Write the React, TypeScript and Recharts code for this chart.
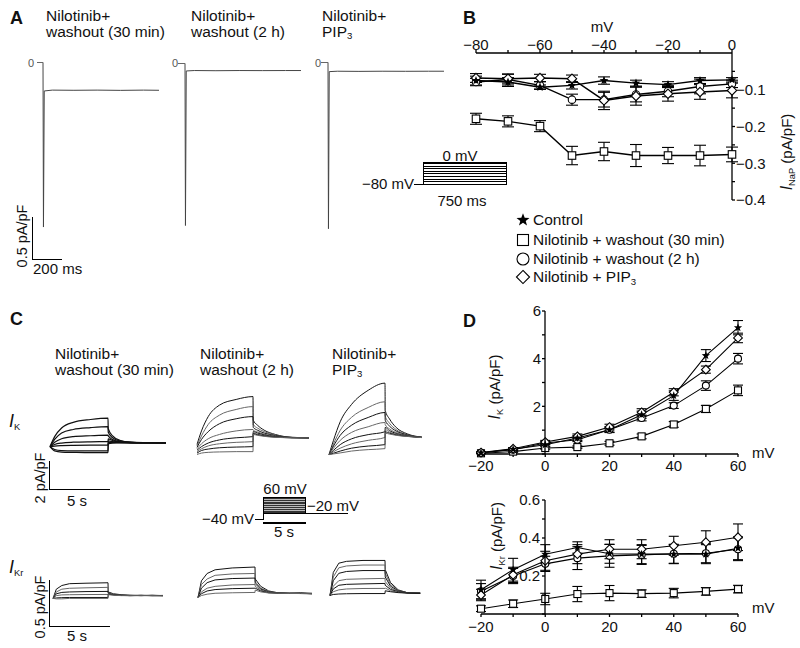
import React from 'react';
import { LineChart, Line, XAxis, YAxis, ErrorBar } from 'recharts';

const FONT = '"Liberation Sans", Arial, Helvetica, sans-serif';

// ---------- Panel B : I_NaP vs voltage ----------
const B_VOLT = [-80, -70, -60, -50, -40, -30, -20, -10, 0];
const B_CTRL = [-0.075, -0.079, -0.093, -0.088, -0.075, -0.082, -0.086, -0.075, -0.073];
const B_CTRL_ERR = [0.012, 0.012, 0.006, 0.01, 0.01, 0.008, 0.008, 0.008, 0.006];
const B_W30 = [-0.179, -0.186, -0.199, -0.279, -0.268, -0.279, -0.279, -0.279, -0.276];
const B_W30_ERR = [0.015, 0.015, 0.015, 0.025, 0.025, 0.03, 0.022, 0.028, 0.02];
const B_W2H = [-0.079, -0.072, -0.088, -0.127, -0.127, -0.113, -0.104, -0.091, -0.084];
const B_W2H_ERR = [0.01, 0.015, 0.01, 0.015, 0.02, 0.02, 0.015, 0.02, 0.01];
const B_PIP = [-0.068, -0.07, -0.068, -0.07, -0.129, -0.117, -0.111, -0.106, -0.102];
const B_PIP_ERR = [0.012, 0.012, 0.01, 0.01, 0.025, 0.025, 0.02, 0.02, 0.02];
const B_XTICKS = [-80, -70, -60, -50, -40, -30, -20, -10, 0];
const B_YTICKS = [-0.4, -0.35, -0.3, -0.25, -0.2, -0.15, -0.1, -0.05];

// ---------- Panel D : I_K and I_Kr vs voltage ----------
const D_VOLT = [-20, -10, 0, 10, 20, 30, 40, 50, 60];
const DK_CTRL = [0.05, 0.2, 0.39, 0.67, 1.02, 1.65, 2.45, 4.13, 5.3];
const DK_CTRL_ERR = [0.03, 0.05, 0.06, 0.1, 0.12, 0.15, 0.2, 0.25, 0.3];
const DK_W30 = [0.03, 0.1, 0.25, 0.29, 0.45, 0.74, 1.24, 1.89, 2.67];
const DK_W30_ERR = [0.02, 0.03, 0.05, 0.05, 0.08, 0.1, 0.12, 0.15, 0.22];
const DK_W2H = [0.05, 0.18, 0.46, 0.6, 1.02, 1.51, 2.03, 2.87, 4.0];
const DK_W2H_ERR = [0.03, 0.05, 0.06, 0.08, 0.1, 0.12, 0.12, 0.2, 0.22];
const DK_PIP = [0.06, 0.22, 0.5, 0.74, 1.13, 1.75, 2.59, 3.54, 4.87];
const DK_PIP_ERR = [0.03, 0.05, 0.07, 0.1, 0.12, 0.15, 0.15, 0.15, 0.2];

const DKR_CTRL = [0.128, 0.233, 0.315, 0.35, 0.317, 0.315, 0.315, 0.315, 0.346];
const DKR_CTRL_ERR = [0.05, 0.06, 0.05, 0.03, 0.05, 0.05, 0.05, 0.05, 0.06];
const DKR_W30 = [0.028, 0.054, 0.079, 0.105, 0.11, 0.107, 0.11, 0.119, 0.131];
const DKR_W30_ERR = [0.015, 0.02, 0.03, 0.04, 0.04, 0.02, 0.025, 0.02, 0.02];
const DKR_W2H = [0.12, 0.2, 0.264, 0.294, 0.306, 0.311, 0.317, 0.32, 0.341];
const DKR_W2H_ERR = [0.04, 0.04, 0.04, 0.06, 0.06, 0.05, 0.05, 0.05, 0.06];
const DKR_PIP = [0.1, 0.206, 0.28, 0.315, 0.341, 0.341, 0.359, 0.378, 0.404];
const DKR_PIP_ERR = [0.03, 0.04, 0.05, 0.05, 0.05, 0.05, 0.05, 0.06, 0.07];
const D_XTICKS = [-20, -10, 0, 10, 20, 30, 40, 50, 60];
const DK_YTICKS = [0, 1, 2, 3, 4, 5, 6];
const DKR_YTICKS = [0, 0.1, 0.2, 0.3, 0.4, 0.5, 0.6];

// ---------- Panel A : I_NaP traces (ms, pA/pF) ----------
const A_TIME = [0, 3, 8, 60, 200, 350, 500, 650, 750];
const A_W30 = [0, -1.96, -0.34, -0.33, -0.332, -0.33, -0.333, -0.33, -0.332];
const A_W2H = [0, -1.93, -0.09, -0.085, -0.087, -0.085, -0.086, -0.085, -0.085];
const A_PIP = [0, -1.98, -0.11, -0.105, -0.107, -0.105, -0.106, -0.105, -0.105];

// ---------- Panel C : I_K traces (s, pA/pF) ----------
const IK_TIME = [0, 0.4, 1, 2, 3.5, 5, 5.02, 5.4, 6, 7, 8.5, 10];
const IK_TIME_PIP = [0, 0.4, 1, 2, 3.5, 5, 5.02, 5.4, 6, 7, 8.3];
const IK_W30 = [
  [0, 0.7, 1.3, 1.7, 1.9, 2.0, 1.25, 0.75, 0.45, 0.32, 0.28, 0.27],
  [0, 0.5, 0.95, 1.2, 1.33, 1.4, 1.0, 0.62, 0.4, 0.3, 0.28, 0.27],
  [0, 0.3, 0.55, 0.7, 0.76, 0.8, 0.75, 0.5, 0.35, 0.3, 0.28, 0.27],
  [0, 0.15, 0.25, 0.31, 0.34, 0.35, 0.55, 0.42, 0.32, 0.28, 0.27, 0.27],
  [0, 0.04, 0.07, 0.09, 0.1, 0.1, 0.4, 0.35, 0.3, 0.27, 0.27, 0.26],
  [0, -0.2, -0.28, -0.3, -0.3, -0.3, 0.3, 0.3, 0.28, 0.27, 0.26, 0.26],
  [0, -0.3, -0.38, -0.4, -0.42, -0.42, 0.2, 0.25, 0.26, 0.26, 0.26, 0.26],
];
const IK_W2H = [
  [0.5, 1.45, 2.45, 3.25, 3.65, 3.85, 2.2, 1.85, 1.5, 1.2, 1.0, 0.97],
  [0.4, 1.1, 1.9, 2.55, 2.95, 3.15, 1.9, 1.65, 1.4, 1.15, 1.0, 0.97],
  [0.3, 0.85, 1.4, 1.95, 2.3, 2.45, 1.7, 1.5, 1.3, 1.12, 0.99, 0.97],
  [0.2, 0.55, 0.9, 1.2, 1.45, 1.55, 1.5, 1.38, 1.22, 1.08, 0.98, 0.97],
  [0.1, 0.35, 0.6, 0.82, 0.97, 1.05, 1.4, 1.3, 1.17, 1.05, 0.98, 0.96],
  [0.0, 0.2, 0.4, 0.55, 0.65, 0.7, 1.3, 1.22, 1.12, 1.03, 0.97, 0.96],
  [-0.1, 0.08, 0.18, 0.27, 0.32, 0.35, 1.25, 1.18, 1.1, 1.02, 0.97, 0.96],
  [-0.2, -0.1, -0.05, -0.02, 0, 0, 1.2, 1.14, 1.07, 1.0, 0.97, 0.96],
];
const IK_PIP = [
  [0, 1.0, 2.3, 3.5, 4.5, 5.0, 3.1, 2.5, 1.9, 1.45, 1.22],
  [0, 0.75, 1.7, 2.6, 3.3, 3.7, 2.7, 2.2, 1.75, 1.4, 1.22],
  [0, 0.6, 1.35, 2.05, 2.6, 2.95, 2.4, 2.0, 1.65, 1.38, 1.21],
  [0, 0.45, 1.0, 1.55, 1.95, 2.25, 2.1, 1.8, 1.55, 1.35, 1.21],
  [0, 0.3, 0.7, 1.1, 1.4, 1.6, 1.9, 1.68, 1.48, 1.32, 1.2],
  [0, 0.2, 0.45, 0.75, 1.0, 1.2, 1.75, 1.58, 1.42, 1.3, 1.2],
  [0, 0.1, 0.25, 0.45, 0.6, 0.7, 1.6, 1.5, 1.38, 1.28, 1.2],
  [0, 0.05, 0.12, 0.25, 0.35, 0.42, 1.5, 1.44, 1.35, 1.27, 1.19],
];

// ---------- Panel C : I_Kr traces (s, pA/pF) ----------
const IKR_TIME = [0, 0.3, 0.8, 1.5, 3, 5, 5.02, 5.5, 6.2, 7, 8, 9, 10];
const IKR_TIME_PIP = [0, 0.3, 0.8, 1.5, 3, 5, 5.02, 5.5, 6.2, 7, 8.2];
const IKR_W30 = [
  [0, 0.1, 0.14, 0.16, 0.165, 0.17, 0.07, 0.05, 0.04, 0.035, 0.03, 0.035, 0.03],
  [0, 0.07, 0.1, 0.11, 0.115, 0.12, 0.06, 0.045, 0.038, 0.032, 0.035, 0.03, 0.033],
  [0, 0.05, 0.065, 0.07, 0.074, 0.076, 0.055, 0.04, 0.035, 0.03, 0.033, 0.03, 0.03],
  [0, 0.03, 0.038, 0.04, 0.042, 0.043, 0.05, 0.04, 0.033, 0.032, 0.03, 0.032, 0.03],
  [0, 0.005, 0.008, 0.01, 0.01, 0.01, 0.045, 0.038, 0.032, 0.03, 0.032, 0.03, 0.03],
  [0, -0.005, -0.005, 0, 0, 0, 0.04, 0.035, 0.03, 0.03, 0.03, 0.03, 0.028],
];
const IKR_W2H = [
  [0, 0.18, 0.26, 0.3, 0.32, 0.33, 0.2, 0.12, 0.07, 0.05, 0.045, 0.05, 0.045],
  [0, 0.14, 0.2, 0.24, 0.255, 0.26, 0.17, 0.1, 0.065, 0.05, 0.045, 0.045, 0.04],
  [0, 0.1, 0.16, 0.19, 0.205, 0.21, 0.15, 0.09, 0.06, 0.048, 0.045, 0.045, 0.04],
  [0, 0.06, 0.1, 0.12, 0.135, 0.14, 0.12, 0.08, 0.055, 0.047, 0.045, 0.043, 0.042],
  [0, 0.04, 0.07, 0.085, 0.095, 0.1, 0.1, 0.07, 0.05, 0.045, 0.044, 0.042, 0.04],
  [0, 0.02, 0.035, 0.045, 0.05, 0.054, 0.08, 0.06, 0.048, 0.045, 0.043, 0.042, 0.04],
];
const IKR_PIP = [
  [0, 0.25, 0.35, 0.37, 0.38, 0.38, 0.28, 0.14, 0.06, 0.03, 0.025],
  [0, 0.2, 0.3, 0.32, 0.33, 0.33, 0.24, 0.12, 0.055, 0.03, 0.025],
  [0, 0.16, 0.24, 0.26, 0.27, 0.27, 0.2, 0.1, 0.05, 0.03, 0.025],
  [0, 0.1, 0.16, 0.175, 0.18, 0.185, 0.15, 0.08, 0.045, 0.028, 0.025],
  [0, 0.07, 0.11, 0.12, 0.125, 0.13, 0.11, 0.065, 0.04, 0.028, 0.024],
  [0, 0.04, 0.06, 0.07, 0.075, 0.076, 0.08, 0.05, 0.035, 0.026, 0.024],
  [0, 0.01, 0.015, 0.018, 0.02, 0.02, 0.05, 0.04, 0.03, 0.025, 0.022],
];

// ---------- helpers ----------
type Kind = 'star' | 'square' | 'circle' | 'diamond';

function Marker({ kind, cx, cy, s }: { kind: Kind; cx: number; cy: number; s: number }) {
  const sw = 1.1;
  if (kind === 'square')
    return <rect x={cx - s / 2} y={cy - s / 2} width={s} height={s} fill="#fff" stroke="#000" strokeWidth={sw} />;
  if (kind === 'circle') return <circle cx={cx} cy={cy} r={s / 2} fill="#fff" stroke="#000" strokeWidth={sw} />;
  if (kind === 'diamond') {
    const r = (s / 2) * 1.25;
    return (
      <polygon
        points={`${cx},${cy - r} ${cx + r},${cy} ${cx},${cy + r} ${cx - r},${cy}`}
        fill="#fff"
        stroke="#000"
        strokeWidth={sw}
      />
    );
  }
  const pts: string[] = [];
  for (let k = 0; k < 10; k++) {
    const a = -Math.PI / 2 + (k * Math.PI) / 5;
    const r = k % 2 === 0 ? s * 0.62 : s * 0.26;
    pts.push(`${cx + r * Math.cos(a)},${cy + r * Math.sin(a)}`);
  }
  return <polygon points={pts.join(' ')} fill="#000" />;
}

const dotOf = (kind: Kind, s: number) => (p: any) =>
  p.cx == null || p.cy == null ? (
    <g key={`${kind}-${p.index}`} />
  ) : (
    <Marker key={`${kind}-${p.index}`} kind={kind} cx={p.cx} cy={p.cy} s={s} />
  );

const SERIES: { key: string; kind: Kind }[] = [
  { key: 'w30', kind: 'square' },
  { key: 'w2h', kind: 'circle' },
  { key: 'pip', kind: 'diamond' },
  { key: 'ctrl', kind: 'star' },
];

const AX = { stroke: '#000', strokeWidth: 1.3 };
const TICK = { fill: '#111', fontSize: 15, fontFamily: FONT };

const Sub = ({ children }: { children: React.ReactNode }) => (
  <span style={{ fontSize: '0.62em', position: 'relative', top: '0.3em' }}>{children}</span>
);

function T({
  x,
  y,
  children,
  a = 'start',
  size = 15,
  bold = false,
  rot = 0,
  color = '#111',
}: {
  x: number;
  y: number;
  children: React.ReactNode;
  a?: 'start' | 'middle' | 'end';
  size?: number;
  bold?: boolean;
  rot?: number;
  color?: string;
}) {
  const tx = a === 'start' ? '0' : a === 'middle' ? '-50%' : '-100%';
  return (
    <div
      style={{
        position: 'absolute',
        left: x,
        top: y,
        transform: `translate(${tx},-50%)${rot ? ` rotate(${rot}deg)` : ''}`,
        fontSize: size,
        fontWeight: bold ? 700 : 400,
        whiteSpace: 'nowrap',
        lineHeight: 1,
        color,
      }}
    >
      {children}
    </div>
  );
}

function Title({ x, y, l1, l2 }: { x: number; y: number; l1: React.ReactNode; l2: React.ReactNode }) {
  return (
    <div style={{ position: 'absolute', left: x, top: y, fontSize: 15.5, lineHeight: '15.5px', whiteSpace: 'nowrap' }}>
      {l1}
      <br />
      {l2}
    </div>
  );
}

function Bar({ x, y, w, h, c = '#000' }: { x: number; y: number; w: number; h: number; c?: string }) {
  return <div style={{ position: 'absolute', left: x, top: y, width: w, height: h, background: c }} />;
}

function Traces({
  left,
  top,
  w,
  h,
  xDom,
  yDom,
  times,
  traces,
  colors,
  sw = 1,
  curve = 'monotone',
}: {
  left: number;
  top: number;
  w: number;
  h: number;
  xDom: [number, number];
  yDom: [number, number];
  times: number[];
  traces: number[][];
  colors: string[];
  sw?: number;
  curve?: any;
}) {
  const rows = times.map((t, i) => {
    const r: Record<string, number> = { t };
    traces.forEach((tr, j) => {
      r['s' + j] = tr[i];
    });
    return r;
  });
  const P = 3;
  return (
    <div style={{ position: 'absolute', left: left - P, top: top - P }}>
      <LineChart width={w + 2 * P} height={h + 2 * P} data={rows} margin={{ top: P, right: P, bottom: P, left: P }}>
        <XAxis type="number" dataKey="t" domain={xDom} hide />
        <YAxis type="number" domain={yDom} hide />
        {traces.map((_, j) => (
          <Line
            key={j}
            dataKey={'s' + j}
            type={curve}
            stroke={colors[j % colors.length]}
            strokeWidth={sw}
            dot={false}
            isAnimationActive={false}
          />
        ))}
      </LineChart>
    </div>
  );
}

const fmtB = (v: number) => (v % 20 === 0 ? (v < 0 ? '\u2212' + -v : '0') : '');
const fmtBY = (v: number) => {
  const k = Math.round(-v * 100);
  return k % 10 === 0 ? '\u2212' + (k / 100).toFixed(1) : '';
};
const fmtD = (v: number) => (v % 20 === 0 ? (v < 0 ? '\u2212' + -v : String(v)) : '');

function ivRows(v: number[], ctrl: number[], ce: number[], w30: number[], w30e: number[], w2h: number[], w2he: number[], pip: number[], pipe: number[]) {
  return v.map((x, i) => ({
    v: x,
    ctrl: ctrl[i],
    ctrlE: ce[i],
    w30: w30[i],
    w30E: w30e[i],
    w2h: w2h[i],
    w2hE: w2he[i],
    pip: pip[i],
    pipE: pipe[i],
  }));
}

function seriesLines(s: number, cap: number, sw: number) {
  return SERIES.map((sr) => (
    <Line
      key={sr.key}
      dataKey={sr.key}
      type="linear"
      stroke="#000"
      strokeWidth={sw}
      dot={dotOf(sr.kind, s)}
      isAnimationActive={false}
    >
      <ErrorBar dataKey={sr.key + 'E'} width={cap} stroke="#000" strokeWidth={1.1} direction="y" isAnimationActive={false} />
    </Line>
  ));
}

const LEGEND: { kind: Kind; s: number; label: React.ReactNode; y: number }[] = [
  { kind: 'star', s: 11, label: 'Control', y: 220 },
  { kind: 'square', s: 11, label: 'Nilotinib + washout (30 min)', y: 239.5 },
  { kind: 'circle', s: 12, label: 'Nilotinib + washout (2 h)', y: 258.5 },
  {
    kind: 'diamond',
    s: 10.5,
    label: (
      <>
        Nilotinib + PIP<Sub>3</Sub>
      </>
    ),
    y: 277,
  },
];

export default function App() {
  const bRows = ivRows(B_VOLT, B_CTRL, B_CTRL_ERR, B_W30, B_W30_ERR, B_W2H, B_W2H_ERR, B_PIP, B_PIP_ERR);
  const dkRows = ivRows(D_VOLT, DK_CTRL, DK_CTRL_ERR, DK_W30, DK_W30_ERR, DK_W2H, DK_W2H_ERR, DK_PIP, DK_PIP_ERR);
  const dkrRows = ivRows(D_VOLT, DKR_CTRL, DKR_CTRL_ERR, DKR_W30, DKR_W30_ERR, DKR_W2H, DKR_W2H_ERR, DKR_PIP, DKR_PIP_ERR);
  const traceCols = ['#111', '#666'];
  const A_H = 2.15 * 84;
  const IK_H = 6.5 * 14.3;
  const IKR_H = 0.55 * 92;

  return (
    <div
      style={{
        position: 'absolute',
        left: 0,
        top: 0,
        width: 800,
        height: 648,
        background: '#fff',
        fontFamily: FONT,
        color: '#111',
        overflow: 'hidden',
      }}
    >
      {/* ================= Panel A ================= */}
      <T x={10} y={18} size={18} bold>
        A
      </T>
      <Title x={46} y={8} l1="Nilotinib+" l2="washout (30 min)" />
      <Title x={191} y={8} l1="Nilotinib+" l2="washout (2 h)" />
      <Title
        x={322}
        y={8}
        l1="Nilotinib+"
        l2={
          <>
            PIP<Sub>3</Sub>
          </>
        }
      />
      <Traces left={42.5} top={62 - 8.4} w={116} h={A_H} xDom={[0, 750]} yDom={[-2.05, 0.1]} times={A_TIME} traces={[A_W30]} colors={['#444']} curve="linear" />
      <Traces left={185} top={63 - 8.4} w={116} h={A_H} xDom={[0, 750]} yDom={[-2.05, 0.1]} times={A_TIME} traces={[A_W2H]} colors={['#444']} curve="linear" />
      <Traces left={328} top={62 - 8.4} w={116} h={A_H} xDom={[0, 750]} yDom={[-2.05, 0.1]} times={A_TIME} traces={[A_PIP]} colors={['#444']} curve="linear" />
      <T x={31} y={63} size={11} color="#555" a="middle">0</T>
      <Bar x={37} y={62} w={6} h={1} c="#666" />
      <T x={175} y={63} size={11} color="#555" a="middle">0</T>
      <Bar x={178} y={62.5} w={7} h={1} c="#666" />
      <T x={318} y={63} size={11} color="#555" a="middle">0</T>
      <Bar x={321} y={62} w={7} h={1} c="#666" />
      {/* scale bar A */}
      <Bar x={32} y={217} w={1.3} h={43} />
      <Bar x={32} y={259} w={30} h={1.3} />
      <T x={22} y={236} a="middle" rot={-90} size={14.5}>
        0.5 pA/pF
      </T>
      <T x={33} y={268} size={15}>
        200 ms
      </T>

      {/* ================= Panel B ================= */}
      <T x={463} y={18} size={18} bold>
        B
      </T>
      <T x={602} y={26} a="middle">
        mV
      </T>
      <div style={{ position: 'absolute', left: 440, top: 20 }}>
        <LineChart width={360} height={200} data={bRows} margin={{ top: 3, right: 18, bottom: 20, left: 36 }}>
          <XAxis
            type="number"
            dataKey="v"
            orientation="top"
            domain={[-80, 0]}
            ticks={B_XTICKS}
            interval={0}
            tickFormatter={fmtB}
            height={30}
            tickSize={3}
            tickMargin={0}
            axisLine={AX}
            tickLine={AX}
            tick={TICK}
          />
          <YAxis
            type="number"
            orientation="right"
            domain={[-0.4, 0]}
            ticks={B_YTICKS}
            interval={0}
            tickFormatter={fmtBY}
            width={50}
            tickSize={3}
            tickMargin={1}
            axisLine={AX}
            tickLine={AX}
            tick={TICK}
          />
          {seriesLines(7.5, 6, 1.4)}
        </LineChart>
      </div>
      <T x={787} y={152} a="middle" rot={-90}>
        <i style={{ fontSize: 16 }}>I</i>
        <Sub>NaP</Sub> (pA/pF)
      </T>
      {LEGEND.map((l) => (
        <React.Fragment key={l.kind}>
          <svg style={{ position: 'absolute', left: 515, top: l.y - 8 }} width={16} height={16}>
            <Marker kind={l.kind} cx={8} cy={8} s={l.s} />
          </svg>
          <T x={533} y={l.y} size={15.5}>
            {l.label}
          </T>
        </React.Fragment>
      ))}
      {/* protocol inset B */}
      <div
        style={{
          position: 'absolute',
          left: 423,
          top: 162,
          width: 84,
          height: 23,
          boxSizing: 'border-box',
          border: '1.3px solid #000',
          background: 'repeating-linear-gradient(to bottom, #000 0px, #000 1px, transparent 1px, transparent 2.6px)',
        }}
      />
      <Bar x={414} y={184} w={10} h={1.3} />
      <T x={460} y={155} a="middle">
        0 mV
      </T>
      <T x={414} y={183} a="end">
        {'\u2212'}80 mV
      </T>
      <T x={462} y={200} a="middle">
        750 ms
      </T>

      {/* ================= Panel C ================= */}
      <T x={10} y={319} size={18} bold>
        C
      </T>
      <Title x={55} y={346} l1="Nilotinib+" l2="washout (30 min)" />
      <Title x={200} y={346} l1="Nilotinib+" l2="washout (2 h)" />
      <Title
        x={332}
        y={346}
        l1="Nilotinib+"
        l2={
          <>
            PIP<Sub>3</Sub>
          </>
        }
      />
      <T x={9} y={421}>
        <i style={{ fontSize: 18 }}>I</i>
        <Sub>K</Sub>
      </T>
      <T x={9} y={567}>
        <i style={{ fontSize: 18 }}>I</i>
        <Sub>Kr</Sub>
      </T>
      <Traces left={50} top={447 - 5.5 * 14.3} w={116} h={IK_H} xDom={[0, 10]} yDom={[-1, 5.5]} times={IK_TIME} traces={IK_W30} colors={['#111']} sw={1.2} />
      <Traces left={197} top={452 - 5.5 * 14.3} w={112} h={IK_H} xDom={[0, 10]} yDom={[-1, 5.5]} times={IK_TIME} traces={IK_W2H} colors={traceCols} />
      <Traces left={329} top={455 - 5.5 * 14.3} w={112} h={IK_H} xDom={[0, 10]} yDom={[-1, 5.5]} times={IK_TIME_PIP} traces={IK_PIP} colors={traceCols} />
      <Traces left={53} top={598 - 0.45 * 92} w={110} h={IKR_H} xDom={[0, 10]} yDom={[-0.1, 0.45]} times={IKR_TIME} traces={IKR_W30} colors={traceCols} curve="linear" />
      <Traces left={198} top={597 - 0.45 * 92} w={114} h={IKR_H} xDom={[0, 10]} yDom={[-0.1, 0.45]} times={IKR_TIME} traces={IKR_W2H} colors={traceCols} curve="linear" />
      <Traces left={330} top={595 - 0.45 * 92} w={110} h={IKR_H} xDom={[0, 10]} yDom={[-0.1, 0.45]} times={IKR_TIME_PIP} traces={IKR_PIP} colors={traceCols} curve="linear" />
      {/* scale bars C */}
      <Bar x={49} y={461} w={1.3} h={29} />
      <Bar x={49} y={489} w={61} h={1.3} />
      <T x={40} y={478} a="middle" rot={-90} size={14.5}>
        2 pA/pF
      </T>
      <T x={77} y={500} a="middle">
        5 s
      </T>
      <Bar x={49} y={580} w={1.3} h={47} />
      <Bar x={49} y={626} w={61} h={1.3} />
      <T x={40} y={607} a="middle" rot={-90} size={14.5}>
        0.5 pA/pF
      </T>
      <T x={77} y={635} a="middle">
        5 s
      </T>
      {/* protocol inset C */}
      <div
        style={{
          position: 'absolute',
          left: 263,
          top: 497,
          width: 43,
          height: 17,
          boxSizing: 'border-box',
          border: '1.3px solid #000',
          background: 'repeating-linear-gradient(to bottom, #333 0px, #333 1px, #bbb 1px, #bbb 1.8px)',
        }}
      />
      <Bar x={263} y={497} w={1.3} h={23} />
      <Bar x={255} y={519} w={9} h={1.3} />
      <Bar x={305} y={513} w={43} h={1.3} />
      <Bar x={263} y={522} w={43} h={1.5} />
      <T x={285} y={488} a="middle">
        60 mV
      </T>
      <T x={307} y={505}>
        {'\u2212'}20 mV
      </T>
      <T x={254} y={518} a="end">
        {'\u2212'}40 mV
      </T>
      <T x={284} y={531} a="middle">
        5 s
      </T>

      {/* ================= Panel D ================= */}
      <T x={463} y={321} size={18} bold>
        D
      </T>
      {/* I_K vs V */}
      <div style={{ position: 'absolute', left: 441, top: 300 }}>
        <LineChart width={320} height={180} data={dkRows} margin={{ top: 11, right: 23, bottom: 1, left: 40 }}>
          <XAxis
            type="number"
            dataKey="v"
            domain={[-20, 60]}
            ticks={D_XTICKS}
            interval={0}
            tickFormatter={fmtD}
            height={25}
            tickSize={3}
            tickMargin={3}
            axisLine={AX}
            tickLine={AX}
            tick={TICK}
          />
          <YAxis type="number" domain={[0, 6]} hide />
          {seriesLines(7, 5, 1.1)}
        </LineChart>
      </div>
      <div style={{ position: 'absolute', left: 495, top: 300 }}>
        <LineChart width={60} height={180} data={dkRows} margin={{ top: 11, right: 0, bottom: 26, left: 0 }}>
          <XAxis type="number" dataKey="v" domain={[-20, 60]} hide />
          <YAxis
            type="number"
            domain={[0, 6]}
            allowDataOverflow
            ticks={DK_YTICKS}
            interval={0}
            tickFormatter={(v: number) => (v > 0 && v % 2 === 0 ? String(v) : '')}
            width={50}
            tickSize={3}
            tickMargin={1}
            axisLine={AX}
            tickLine={AX}
            tick={TICK}
          />
          <Line dataKey="w30" stroke="none" dot={false} isAnimationActive={false} />
        </LineChart>
      </div>
      <T x={752} y={452}>
        mV
      </T>
      <T x={495} y={387} a="middle" rot={-90}>
        <i style={{ fontSize: 16 }}>I</i>
        <Sub>K</Sub> (pA/pF)
      </T>

      {/* I_Kr vs V */}
      <div style={{ position: 'absolute', left: 441, top: 490 }}>
        <LineChart width={320} height={150} data={dkrRows} margin={{ top: 10, right: 23, bottom: 1, left: 40 }}>
          <XAxis
            type="number"
            dataKey="v"
            domain={[-20, 60]}
            ticks={D_XTICKS}
            interval={0}
            tickFormatter={fmtD}
            height={25}
            tickSize={3}
            tickMargin={4}
            axisLine={AX}
            tickLine={AX}
            tick={TICK}
          />
          <YAxis type="number" domain={[0, 0.6]} hide />
          {seriesLines(7, 5, 1.1)}
        </LineChart>
      </div>
      <div style={{ position: 'absolute', left: 495, top: 490 }}>
        <LineChart width={60} height={150} data={dkrRows} margin={{ top: 10, right: 0, bottom: 26, left: 0 }}>
          <XAxis type="number" dataKey="v" domain={[-20, 60]} hide />
          <YAxis
            type="number"
            domain={[0, 0.6]}
            allowDataOverflow
            ticks={DKR_YTICKS}
            interval={0}
            tickFormatter={(v: number) => {
              const k = Math.round(v * 10);
              return k > 0 && k % 2 === 0 ? (k / 10).toFixed(1) : '';
            }}
            width={50}
            tickSize={3}
            tickMargin={2}
            axisLine={AX}
            tickLine={AX}
            tick={TICK}
          />
          <Line dataKey="w30" stroke="none" dot={false} isAnimationActive={false} />
        </LineChart>
      </div>
      <T x={752} y={607}>
        mV
      </T>
      <T x={497} y={536} a="middle" rot={-90}>
        <i style={{ fontSize: 16 }}>I</i>
        <Sub>Kr</Sub> (pA/pF)
      </T>
    </div>
  );
}
